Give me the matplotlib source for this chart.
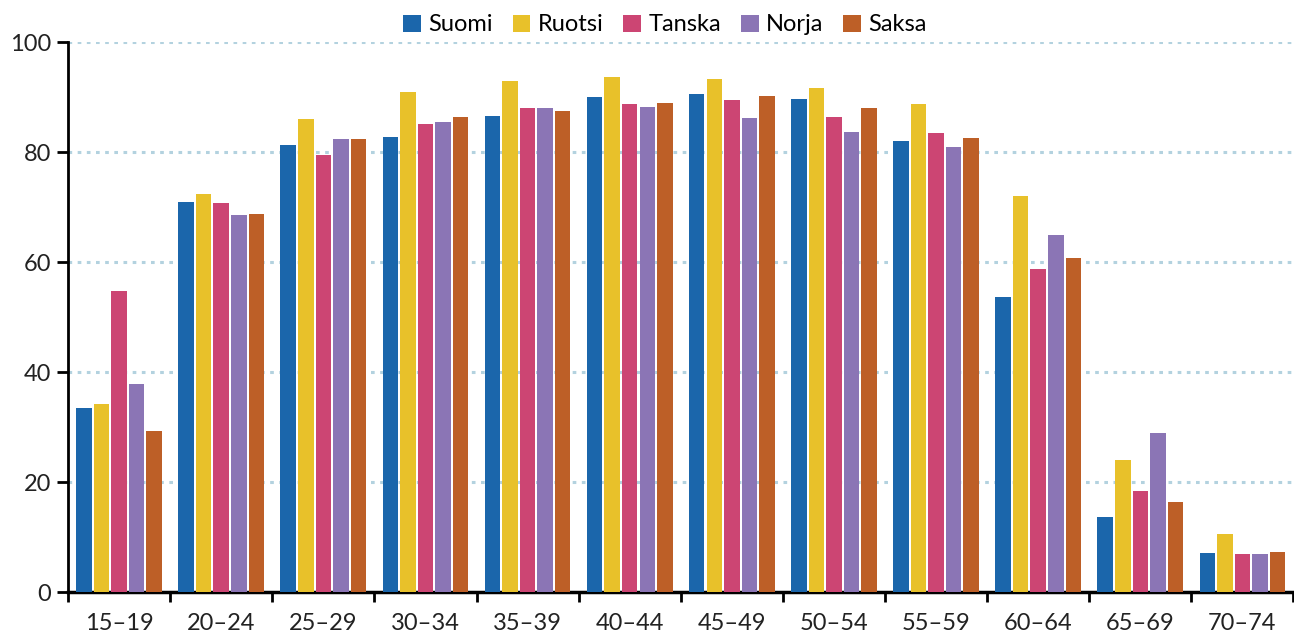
import numpy as np
import matplotlib.pyplot as plt

plt.rcParams['font.family'] = ['Lato', 'DejaVu Sans']

age_groups = ["15–19", "20–24", "25–29", "30–34", "35–39", "40–44",
              "45–49", "50–54", "55–59", "60–64", "65–69", "70–74"]
countries = ["Suomi", "Ruotsi", "Tanska", "Norja", "Saksa"]
colors = ["#1b66ab", "#e8c12a", "#cc4573", "#8b75b5", "#bd5f27"]

suomi = [33.5, 70.9, 81.2, 82.8, 86.5, 90.0, 90.6, 89.6, 82.1, 53.7, 13.7, 7.1]
ruotsi = [34.2, 72.4, 86.1, 90.9, 92.9, 93.6, 93.2, 91.7, 88.8, 72.0, 24.0, 10.6]
tanska = [54.8, 70.7, 79.5, 85.1, 88.0, 88.7, 89.4, 86.3, 83.5, 58.8, 18.3, 7.0]
norja = [37.8, 68.6, 82.3, 85.5, 88.1, 88.2, 86.2, 83.6, 81.0, 64.9, 28.9, 6.9]
saksa = [29.3, 68.8, 82.3, 86.3, 87.5, 89.0, 90.2, 88.1, 82.6, 60.8, 16.3, 7.2]

series = [suomi, ruotsi, tanska, norja, saksa]

fig = plt.figure(figsize=(12.94, 6.35), dpi=100)
ax = fig.add_axes([0.0526, 0.0677, 0.947, 0.866])

x = np.arange(len(age_groups))
slot = 0.172
width = 0.152
for i, (name, vals) in enumerate(zip(countries, series)):
    offs = (i - 2) * slot
    ax.bar(x + offs, vals, width, color=colors[i], label=name, zorder=3)

ax.set_xlim(-0.5, len(age_groups) - 0.5)
ax.set_ylim(0, 100)
ax.set_yticks(range(0, 101, 20))
ax.yaxis.grid(True, linestyle=(0, (1.2, 1.8)), color="#b3d2df", linewidth=2.2, zorder=0)

ax.set_xticks(x)
ax.set_xticklabels(age_groups)
ax.set_xticks(np.arange(-0.5, len(age_groups)), minor=True)
ax.tick_params(axis="x", which="major", length=0, labelsize=17, pad=15, colors="#222222")
ax.tick_params(axis="x", which="minor", length=7, width=2, color="black", direction="out")
ax.tick_params(axis="y", length=8, width=2, labelsize=17, pad=4, colors="#222222")
ax.tick_params(axis="y", color="black")

for side in ["top", "right"]:
    ax.spines[side].set_visible(False)
ax.spines["left"].set_linewidth(2)
ax.spines["bottom"].set_linewidth(2.5)

ax.legend(loc="lower center", bbox_to_anchor=(0.487, 0.995), ncol=5, frameon=False,
          fontsize=17, handlelength=0.75, handleheight=0.75, handletextpad=0.3,
          columnspacing=0.85, borderaxespad=0.0)

fig.savefig("out.png", dpi=100)
